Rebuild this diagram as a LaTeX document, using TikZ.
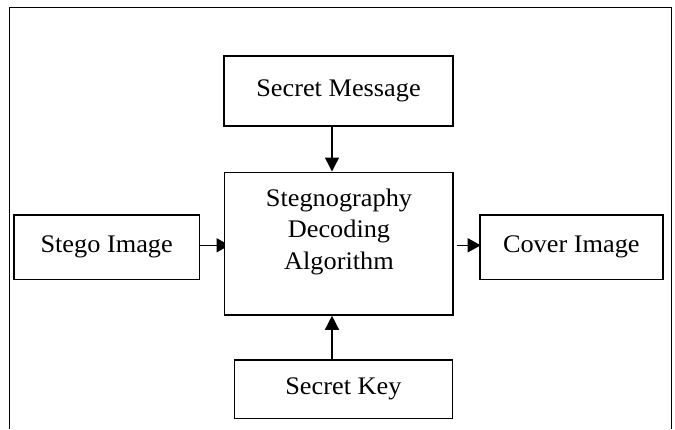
\documentclass[tikz,border=0pt]{standalone}
\usepackage{fontspec}
\setmainfont{Liberation Serif}[FakeStretch=1.04]
\usetikzlibrary{arrows.meta,backgrounds}
\begin{document}
\begin{tikzpicture}[x=1pt,y=-1pt,
  lbl/.style={font=\fontsize{25.3}{31.5}\selectfont, align=center},
  box/.style={lbl, draw, line width=1.6pt, fill=white, inner sep=0pt},
  varr/.style={line width=1.5pt, -{Triangle[width=14pt,length=14pt]}},
  harr/.style={line width=1.5pt, -{Triangle[width=14pt,length=13pt]}},
  frame/.style={line width=1.1pt}]
\useasboundingbox (0,0) rectangle (675,429);
% outer frame (bottom edge lies outside the picture)
\draw[frame] (9.3,429) -- (9.3,7.3) -- (671.7,7.3) -- (671.7,429);
% boxes
\node[box, minimum width=229pt, minimum height=70pt] (msg) at (338.5,91) {Secret Message};
\node[box, minimum width=228.4pt, minimum height=142.7pt] (alg) at (338.5,243.65) {};
\node[lbl, inner sep=0pt, anchor=north] (algtext) at (339,188.5) {Stegnography\\Decoding\\Algorithm};
\node[box, minimum width=185.3pt, minimum height=64.3pt] (stego) at (106.65,247.15) {Stego Image};
\node[box, minimum width=182.7pt, minimum height=64.3pt] (cover) at (571.35,247.15) {Cover Image};
\node[box, minimum width=218.2pt, minimum height=58.3pt] (key) at (343.4,389.15) {Secret Key};
% helper coordinates
\coordinate (vx) at (332,0);
\coordinate (hy) at (0,245.3);
\coordinate (rs) at (456.7,245.3);
% connectors (under the boxes, so that tips run into them)
\begin{pgfonlayer}{background}
\draw[varr] (msg.south -| vx) -- (alg.north -| vx);
\draw[varr] (key.north -| vx) -- (alg.south -| vx);
\draw[harr] (stego.east |- hy) -- ([xshift=6pt]alg.west |- hy);
\draw[harr] (rs) -- ([xshift=1.5pt]cover.west |- hy);
\end{pgfonlayer}
\end{tikzpicture}
\end{document}
